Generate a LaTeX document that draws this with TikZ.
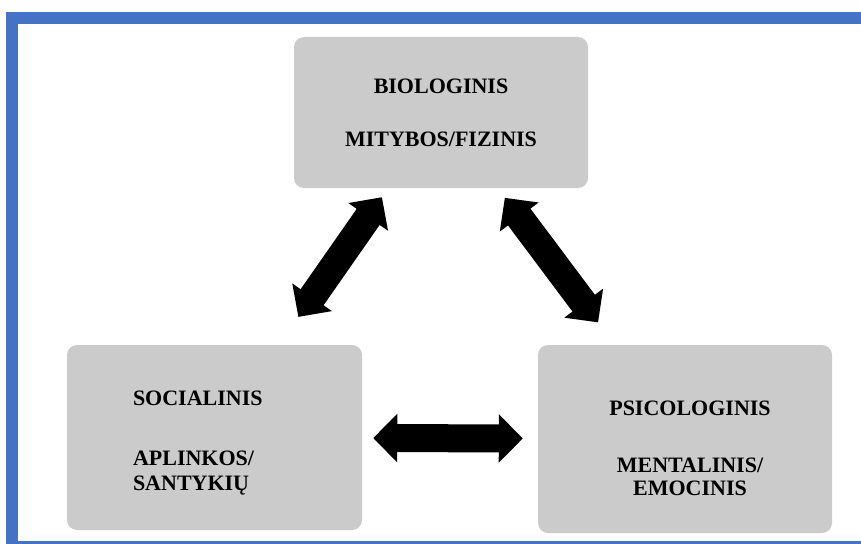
\documentclass[tikz,border=0pt]{standalone}
\usepackage{fontspec}
\setmainfont{Liberation Serif}
\usetikzlibrary{arrows.meta}
\definecolor{frameblue}{HTML}{4472C4}
\definecolor{boxgray}{HTML}{CBCBCB}

\begin{document}
\begin{tikzpicture}[x=1pt,y=-1pt,
  area/.style={fill=boxgray, rounded corners=10pt, minimum width=294pt, inner sep=0pt,
    font=\fontsize{22}{24}\selectfont\bfseries},
  bigarrow/.style={line width=28pt,
    {Triangle[length=24pt,width=47pt]}-{Triangle[length=24pt,width=47pt]}}]
  \useasboundingbox (0,0) rectangle (861,543);
  \draw[frameblue, line width=12pt] (12,18) rectangle (875,547);
  % the three areas
  \node[area, minimum height=151pt, align=center] (bio) at (441,112.5)
    {BIOLOGINIS\\[29pt]MITYBOS/FIZINIS};
  \node[area, minimum height=185pt, text width=163pt, inner xsep=66pt, align=left] (soc) at (214.5,437.5)
    {\rule{0pt}{25pt}SOCIALINIS\\[36pt]APLINKOS/\\[1pt]SANTYKIŲ};
  \node[area, minimum height=188pt, text width=284pt, inner xsep=5pt, align=center] (psy) at (685,439)
    {\rule{0pt}{34pt}\hspace*{10pt}PSICOLOGINIS\\[33pt]\hspace*{10pt}MENTALINIS/\\[-1pt]\hspace*{10pt}EMOCINIS};
  % links
  \draw[bigarrow, shorten <=11pt, shorten >=34pt] (bio) -- (soc);
  \draw[bigarrow, shorten <=12pt, shorten >=28pt] (bio) -- (psy);
  \draw[bigarrow, shorten <=11pt, shorten >=15pt] (soc) -- (psy);
\end{tikzpicture}
\end{document}
